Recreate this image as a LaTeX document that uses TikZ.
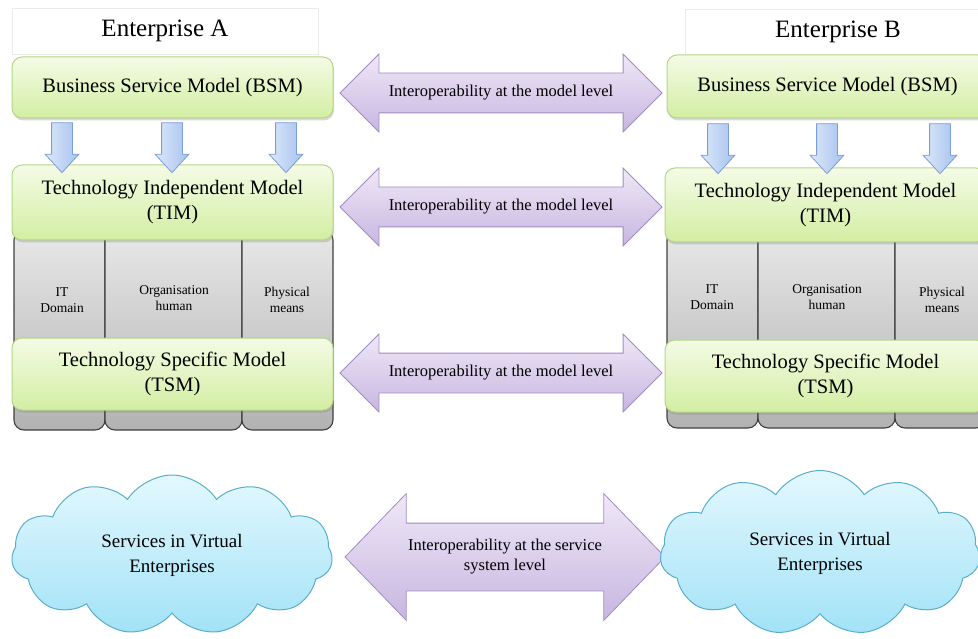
\documentclass[tikz,border=0pt]{standalone}
\usepackage{fontspec}
\setmainfont{Liberation Serif}
\usepackage{tikz}
\usetikzlibrary{shapes,shapes.arrows,shapes.symbols,shadows}

\definecolor{modeltop}{HTML}{F4FBE6}
\definecolor{modelbot}{HTML}{D3EEA2}
\definecolor{modelline}{HTML}{B4D687}
\definecolor{domtop}{HTML}{E8E8E8}
\definecolor{dombot}{HTML}{B2B2B2}
\definecolor{linktop}{HTML}{EFE8F7}
\definecolor{linkbot}{HTML}{C7B6E0}
\definecolor{linkline}{HTML}{A08CC4}
\definecolor{downleft}{HTML}{DCE8F9}
\definecolor{downright}{HTML}{A6C2EE}
\definecolor{downline}{HTML}{7C9ED6}
\definecolor{cloudtop}{HTML}{E3F8FE}
\definecolor{cloudbot}{HTML}{A2E2F7}
\definecolor{cloudline}{HTML}{5AAECB}

\tikzset {
    style title/.style={
        fill=white,
        draw=black!8,
        rectangle, % Set the shape as a rectangle
        font=\fontsize{25}{28}\selectfont,
    },
    style model/.style={
        top color=modeltop,
        bottom color=modelbot,
        draw=modelline,
        line width=1pt,
        rectangle, % Set the shape as a rectangle
        rounded corners=10pt,
        align=center,
        font=\fontsize{20.5}{25}\selectfont,
        drop shadow={shadow xshift=1pt, shadow yshift=-2.5pt, opacity=.3},
    },
    style domain/.style={
        top color=domtop,
        bottom color=dombot,
        draw=black!75,
        line width=1.1pt,
        rectangle, % Set the shape as a rectangle
        rounded corners=10pt,
    },
    style label/.style={
        align=center,
        inner sep=0pt,
        font=\fontsize{13.5}{16}\selectfont,
    },
    style down/.style={
        left color=downleft,
        right color=downright,
        draw=downline,
        line width=.8pt,
        single arrow,
        shape border rotate=270,
        single arrow tip angle=85,
        single arrow head extend=6.5pt,
        minimum height=50pt,
        minimum width=33pt,
        inner xsep=10pt,
        inner ysep=0pt,
    },
    style link/.style={
        top color=linktop,
        bottom color=linkbot,
        draw=linkline,
        line width=.8pt,
        double arrow,
        double arrow tip angle=90,
        inner xsep=0pt,
    },
    style link text/.style={
        align=center,
        inner sep=0pt,
        font=\fontsize{16.5}{20}\selectfont,
    },
    style cloud/.style={
        top color=cloudtop,
        bottom color=cloudbot,
        draw=cloudline,
        line width=1pt,
        cloud,
        cloud puffs=11,
        cloud puff arc=115,
        aspect=2,
        align=center,
        inner sep=0pt,
        font=\fontsize{19}{25}\selectfont,
    },
}

\begin{document}
\begin{tikzpicture}[x=1pt, y=-1pt]
    \clip (0,0) rectangle (978,639);

    % titles
    \node[style title, minimum width=306pt, minimum height=46pt] at (165,31) (entA) {Enterprise A};
    \node[style title, minimum width=306pt, minimum height=46pt] at (838,32) (entB) {Enterprise B};

    % domain columns
    \node[style domain, minimum width=91pt, minimum height=200pt] at (59.5,330) (itA) {};
    \node[style domain, minimum width=137pt, minimum height=200pt] at (173.5,330) (orgA) {};
    \node[style domain, minimum width=91pt, minimum height=200pt] at (287.5,330) (phyA) {};
    \node[style domain, minimum width=91pt, minimum height=198pt] at (712.5,329) (itB) {};
    \node[style domain, minimum width=137pt, minimum height=198pt] at (826.5,329) (orgB) {};
    \node[style domain, minimum width=91pt, minimum height=198pt] at (940.5,329) (phyB) {};

    \node[style label] at (62,300) (itAtxt) {IT\\Domain};
    \node[style label] at (174,298) (orgAtxt) {Organisation\\human};
    \node[style label] at (287,300) (phyAtxt) {Physical\\means};
    \node[style label] at (712,297) (itBtxt) {IT\\Domain};
    \node[style label] at (827,297) (orgBtxt) {Organisation\\human};
    \node[style label] at (942,300) (phyBtxt) {Physical\\means};

    % models
    \node[style model, minimum width=321pt, minimum height=61pt] at (172.5,87.5) (bsmA) {Business Service Model (BSM)};
    \node[style model, minimum width=321pt, minimum height=75pt] at (172.5,202.5) (timA) {Technology Independent Model\\(TIM)};
    \node[style model, minimum width=321pt, minimum height=72pt] at (172.5,374) (tsmA) {Technology Specific Model\\(TSM)};
    \node[style model, minimum width=321pt, minimum height=63pt] at (827.5,86.5) (bsmB) {Business Service Model (BSM)};
    \node[style model, minimum width=321pt, minimum height=74pt] at (825.5,205) (timB) {Technology Independent Model\\(TIM)};
    \node[style model, minimum width=321pt, minimum height=72pt] at (825.5,376) (tsmB) {Technology Specific Model\\(TSM)};

    % refinement arrows
    \node[style down] at (62,142) (dA1) {};
    \node[style down] at (172,142) (dA2) {};
    \node[style down] at (286,142) (dA3) {};
    \node[style down] at (718,143) (dB1) {};
    \node[style down] at (827,143) (dB2) {};
    \node[style down] at (940,143) (dB3) {};

    % interoperability
    \node[style link, minimum height=322pt, minimum width=77pt, inner ysep=19.5pt, double arrow head extend=19pt] at (501,93) (lnk1) {};
    \node[style link, minimum height=322pt, minimum width=77pt, inner ysep=19.5pt, double arrow head extend=19pt] at (501,207) (lnk2) {};
    \node[style link, minimum height=322pt, minimum width=77pt, inner ysep=19.5pt, double arrow head extend=19pt] at (501,373) (lnk3) {};
    \node[style link, minimum height=320pt, minimum width=126pt, inner ysep=33.5pt, double arrow head extend=29.5pt, double arrow tip angle=92] at (505,557) (lnk4) {};
    \node[style link text] at (lnk1) (lnk1txt) {Interoperability at the model level};
    \node[style link text] at (lnk2) (lnk2txt) {Interoperability at the model level};
    \node[style link text] at (lnk3) (lnk3txt) {Interoperability at the model level};
    \node[style link text] at (lnk4) (lnk4txt) {Interoperability at the service\\system level};

    % services
    \node[style cloud, minimum width=321pt, minimum height=160pt] at (172,555) (cldA) {Services in Virtual\\Enterprises};
    \node[style cloud, minimum width=320pt, minimum height=165pt] at (820,553) (cldB) {Services in Virtual\\Enterprises};
\end{tikzpicture}
\end{document}
